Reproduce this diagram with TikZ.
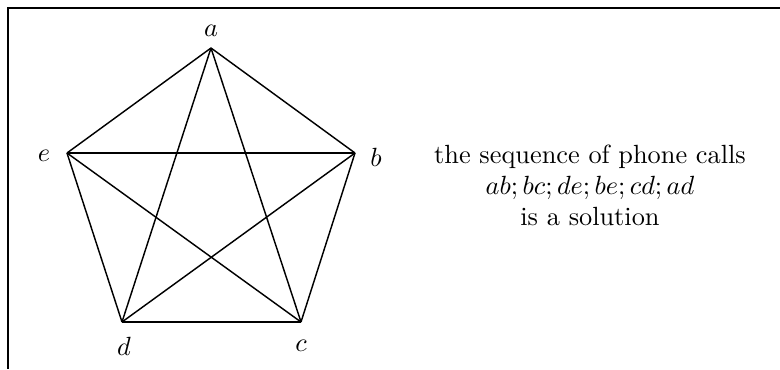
\documentclass[tikz,border=0pt]{standalone}
\usepackage{amsmath,amssymb}
\usetikzlibrary{positioning}

\begin{document}
\begin{tikzpicture}[x=0.38pt, y=-0.38pt, every node/.style={inner sep=1pt}]
        \useasboundingbox (0,0) rectangle (780,369);
        \draw[line width=0.6pt] (780,8) -- (8,8) -- (8,369);
        \coordinate (a) at (211,48);
        \coordinate (b) at (355,153);
        \coordinate (c) at (301,322);
        \coordinate (d) at (122,322);
        \coordinate (e) at (67,153);
        \node (la) at (211,31) {$a$};
        \node (lb) at (376,157) {$b$};
        \node (lc) at (301,346) {$c$};
        \node (ld) at (124,346) {$d$};
        \node (le) at (44,156) {$e$};
        \foreach \u/\v in {a/b,a/c,a/d,a/e,b/c,b/d,b/e,c/d,c/e,d/e}
          \draw[line width=0.55pt] (\u) -- (\v);
        \node[align=center] (calls) at (590,185.5) {the sequence of phone calls\\[-0.3pt] $ab; bc; de; be; cd; ad$\\[-0.3pt] is a solution};
      \end{tikzpicture}
\end{document}
